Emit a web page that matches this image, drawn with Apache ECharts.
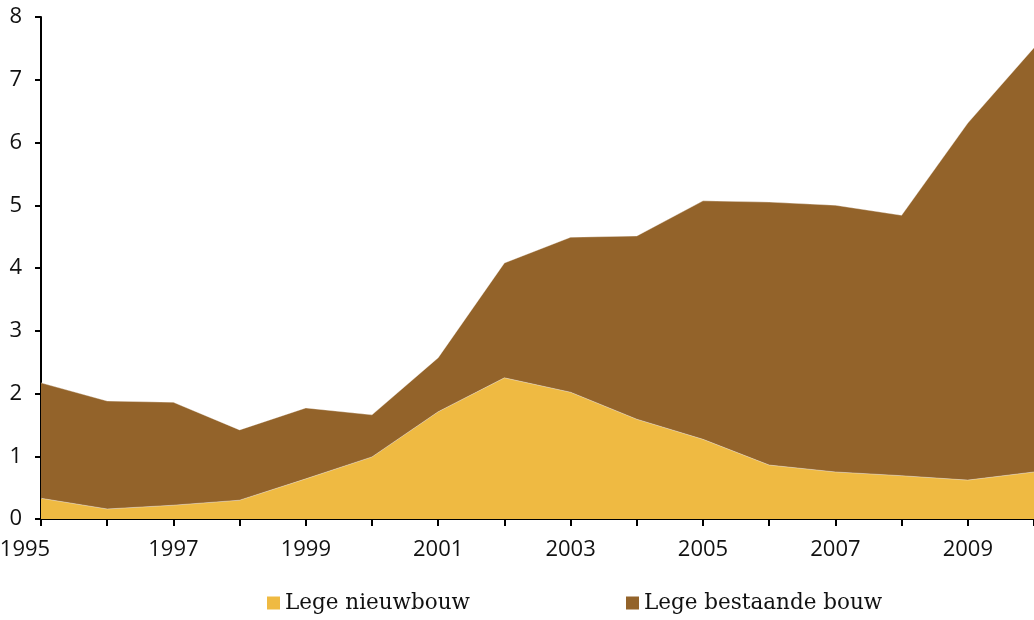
<!DOCTYPE html>
<html>
<head>
<meta charset="utf-8">
<script src="https://cdn.jsdelivr.net/npm/echarts@6/dist/echarts.min.js"></script>
<style>html,body{margin:0;padding:0;background:#fff}#c{width:1034px;height:620px}</style>
</head>
<body>
<div id="c"></div>
<script>
const years = ['1995','1996','1997','1998','1999','2000','2001','2002','2003','2004','2005','2006','2007','2008','2009','2010'];
const legeNieuwbouw = [0.33,0.16,0.22,0.30,0.64,0.99,1.71,2.25,2.02,1.59,1.27,0.86,0.75,0.69,0.62,0.75];
const legeBestaandeBouw = [1.84,1.72,1.64,1.12,1.13,0.67,0.86,1.83,2.47,2.92,3.80,4.19,4.25,4.15,5.69,6.76];
const yTicks = [0,1,2,3,4,5,6,7,8];

const chart = echarts.init(document.getElementById('c'));
chart.setOption({
  animation: false,
  backgroundColor: '#fff',
  grid: {left: 41, right: 0, top: 17, bottom: 101, containLabel: false, outerBoundsMode: 'none'},
  legend: {
    bottom: 1, left: 262, itemWidth: 13, itemHeight: 13, itemGap: 156,
    icon: 'rect',
    textStyle: {fontFamily: 'DejaVu Serif', fontSize: 21.5, color: '#111'},
    data: ['Lege nieuwbouw', 'Lege bestaande bouw']
  },
  xAxis: {
    type: 'category', data: years, boundaryGap: false,
    axisLine: {lineStyle: {color: '#000', width: 2}},
    axisTick: {show: true, length: 7, lineStyle: {color: '#000', width: 2}, interval: 0},
    axisLabel: {
      interval: 1, margin: 20, color: '#111', fontFamily: 'Open Sans', fontSize: 22,
      formatter: function (v, i) { return i === 0 ? '{first|' + v + '}' : v; },
      rich: {first: {padding: [0, 32, 0, 0], fontFamily: 'Open Sans', fontSize: 22, color: '#111'}}
    },
    splitLine: {show: false}
  },
  yAxis: {
    type: 'value', min: yTicks[0], max: yTicks[yTicks.length - 1], interval: 1,
    axisLine: {show: true, lineStyle: {color: '#000', width: 2}},
    axisTick: {show: true, length: 6, lineStyle: {color: '#000', width: 2}},
    axisLabel: {margin: 19, color: '#111', fontFamily: 'Open Sans', fontSize: 22},
    splitLine: {show: false}
  },
  series: [
    {
      name: 'Lege nieuwbouw', type: 'line', stack: 'total', data: legeNieuwbouw,
      symbol: 'none', color: '#EFBA42',
      lineStyle: {width: 0.8, color: 'rgba(255,255,255,0.45)'},
      areaStyle: {color: '#EFBA42', opacity: 1}
    },
    {
      name: 'Lege bestaande bouw', type: 'line', stack: 'total', data: legeBestaandeBouw,
      symbol: 'none', color: '#93632A',
      lineStyle: {width: 0.8, color: 'rgba(255,255,255,0.45)'},
      areaStyle: {color: '#93632A', opacity: 1}
    }
  ]
});
</script>
</body>
</html>
